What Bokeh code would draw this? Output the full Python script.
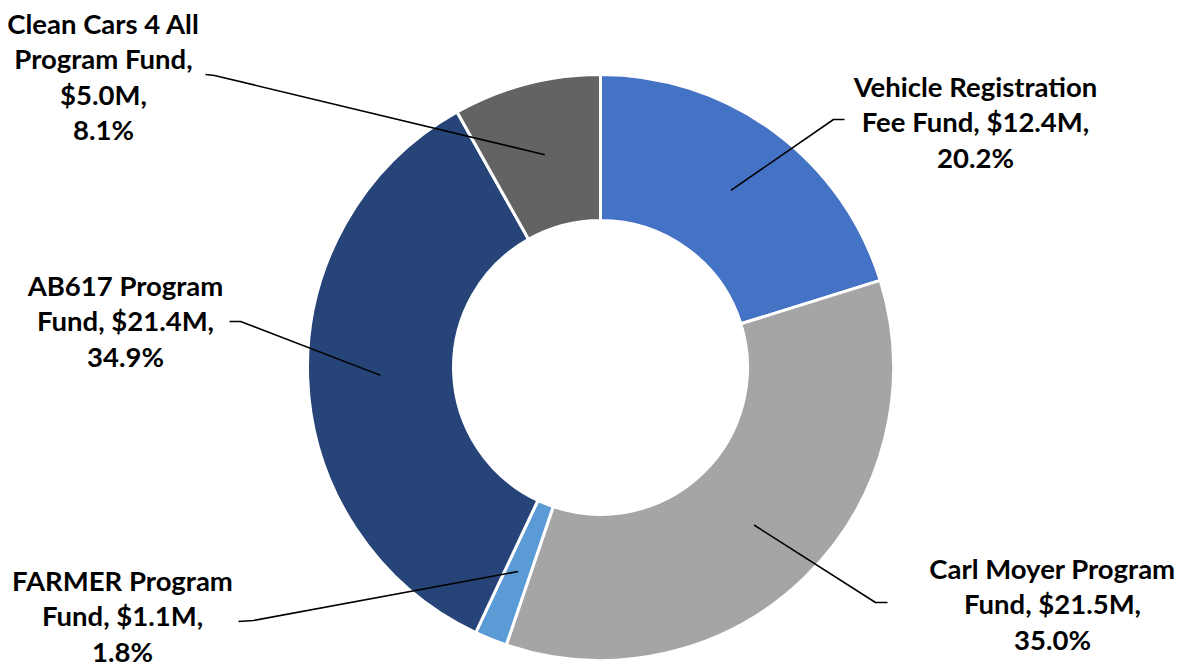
import math
from bokeh.plotting import figure
from bokeh.models import Range1d, ColumnDataSource
from bokeh.core.properties import value
from bokeh.embed import file_html
from bokeh.resources import INLINE

# ---- data ----
categories = ["Vehicle Registration Fee Fund", "Carl Moyer Program Fund",
              "FARMER Program Fund", "AB617 Program Fund",
              "Clean Cars 4 All Program Fund"]
amounts = [12.4, 21.5, 1.1, 21.4, 5.0]          # $M
percents = [20.2, 35.0, 1.8, 34.9, 8.1]          # %
colors = ["#4472C4", "#A5A5A5", "#5B9BD5", "#264478", "#636363"]

# ---- layout (pixel coordinates, y measured from top) ----
W, H = 1186, 668
CX, CY = 600, 367
R_OUT, R_IN = 293, 147
label_words_per_line = [[2, 3, 1], [3, 2, 1], [2, 2, 1], [2, 2, 1], [4, 2, 1, 1]]
label_center = [(975, 121), (1052, 603), (122, 615), (125, 320), (103, 76)]
leader_elbow = [(833, 119), (875, 602), (253, 620), (240, 321), (214, 75)]
leader_end = [(844, 119), (887, 602), (238, 621), (229, 321), (205, 74)]
LINE_SP = 35.5
FONT = "Lato"
FONT_SIZE = "27.5px"


def Y(ypix):
    return H - ypix


p = figure(width=W, height=H, output_backend="svg", toolbar_location=None,
           x_range=Range1d(0, W), y_range=Range1d(0, H), min_border=0,
           outline_line_color=None, background_fill_color="white",
           border_fill_color="white")
p.axis.visible = False
p.grid.visible = False

total = sum(amounts)
starts, ends, mids = [], [], []
cum = 0.0
for a in amounts:
    s = math.pi / 2 - 2 * math.pi * cum / total
    cum += a
    e = math.pi / 2 - 2 * math.pi * cum / total
    starts.append(s)
    ends.append(e)
    mids.append((s + e) / 2)

src = ColumnDataSource(dict(x=[CX] * len(amounts), y=[Y(CY)] * len(amounts),
                            start=starts, end=ends, color=colors, cat=categories))
p.annular_wedge(x="x", y="y", inner_radius=R_IN, outer_radius=R_OUT,
                start_angle="start", end_angle="end", direction="clock",
                fill_color="color", line_color="white", line_width=3, source=src)

# leader lines
r_mid = (R_IN + R_OUT) / 2
for i, m in enumerate(mids):
    ax = CX + r_mid * math.cos(m)
    ay = Y(CY) + r_mid * math.sin(m)
    xs = [ax, leader_elbow[i][0], leader_end[i][0]]
    ys = [ay, Y(leader_elbow[i][1]), Y(leader_end[i][1])]
    p.line(xs, ys, line_color="black", line_width=1.6)

# labels
tx, ty, tt = [], [], []
for i, cat in enumerate(categories):
    words = f"{cat}, ${amounts[i]:.1f}M, {percents[i]:.1f}%".split(" ")
    lines = []
    k = 0
    for n in label_words_per_line[i]:
        lines.append(" ".join(words[k:k + n]))
        k += n
    nl = len(lines)
    cx, cy = label_center[i]
    for j, ln in enumerate(lines):
        tx.append(cx)
        ty.append(Y(cy + (j - (nl - 1) / 2) * LINE_SP))
        tt.append(ln)

p.text(x=tx, y=ty, text=tt, text_align="center", text_baseline="middle",
       text_font=value(FONT), text_font_style="bold", text_font_size=FONT_SIZE,
       text_color="black")

open("out.html", "w").write(file_html(p, INLINE))
